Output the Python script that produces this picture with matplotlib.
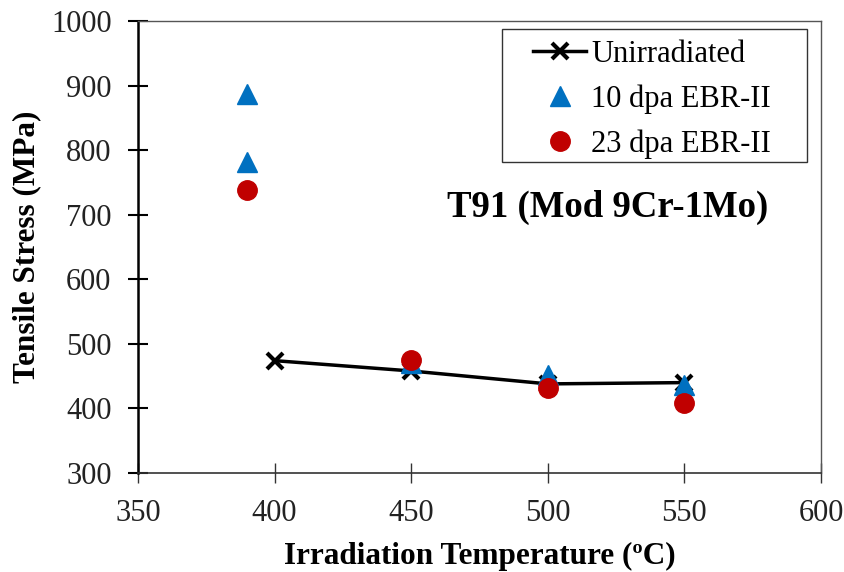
import matplotlib
matplotlib.use("Agg")
import matplotlib.pyplot as plt
from matplotlib.patches import Rectangle

plt.rcParams['font.family'] = ['Liberation Serif', 'DejaVu Serif']

unirr_T = [400, 450, 500, 550]
unirr_S = [474, 458, 438, 440]

dpa10_T = [390, 390, 450, 500, 550]
dpa10_S = [887, 781, 470, 451, 436]

dpa23_T = [390, 450, 500, 550]
dpa23_S = [739, 475, 431, 408]

xticks = [350, 400, 450, 500, 550, 600]
yticks = [300, 400, 500, 600, 700, 800, 900, 1000]

W, H = 844, 572
fig = plt.figure(figsize=(W/100, H/100), dpi=100)
ax = fig.add_axes([138/W, 1-473/H, (821-138)/W, (473-21)/H])

ax.plot(unirr_T, unirr_S, color='black', lw=2.5, marker='x', ms=12, mew=3,
        label='Unirradiated', zorder=2)
ax.plot(dpa10_T, dpa10_S, ls='none', marker='^', ms=15, color='#0070C0',
        label='10 dpa EBR-II', zorder=3)
ax.plot(dpa23_T, dpa23_S, ls='none', marker='o', ms=14, color='#C00000',
        label='23 dpa EBR-II', zorder=4)

ax.set_xlim(350, 600)
ax.set_ylim(300, 1000)
ax.set_xticks(xticks)
ax.set_yticks(yticks)
ax.tick_params(axis='x', direction='inout', length=14, width=1, labelsize=22, pad=11.5,
               colors='#333333', labelcolor='#222222')
ax.tick_params(axis='y', direction='inout', length=14, width=1.5, labelsize=22, pad=12,
               labelcolor='#222222')

ax.spines['left'].set_linewidth(1.8)
ax.spines['left'].set_color('black')
ax.spines['bottom'].set_linewidth(1.2)
ax.spines['bottom'].set_color('#333333')
for s in ['top', 'right']:
    ax.spines[s].set_linewidth(1.0)
    ax.spines[s].set_color('#555555')

ax.set_xlabel('Irradiation Temperature (ºC)', fontsize=22.5, fontweight='bold', labelpad=10)
ax.set_ylabel('Tensile Stress (MPa)', fontsize=22.5, fontweight='bold', labelpad=7)

fig.text(608/W, 1-207/H, 'T91 (Mod 9Cr-1Mo)', ha='center', va='center',
         fontsize=26.5, fontweight='bold')

fig.patches.append(Rectangle((502/W, 1-162/H), (807-502)/W, (162-29)/H,
                             transform=fig.transFigure, fill=False,
                             edgecolor='#333333', lw=1.0, zorder=5))

leg = ax.legend(loc='upper left', bbox_to_anchor=(533/W, 1-40/H),
                bbox_transform=fig.transFigure, fontsize=22, frameon=False,
                borderpad=0, labelspacing=0.5, handlelength=1.75,
                handletextpad=0.15, borderaxespad=0)

fig.savefig('out.png', dpi=100)
